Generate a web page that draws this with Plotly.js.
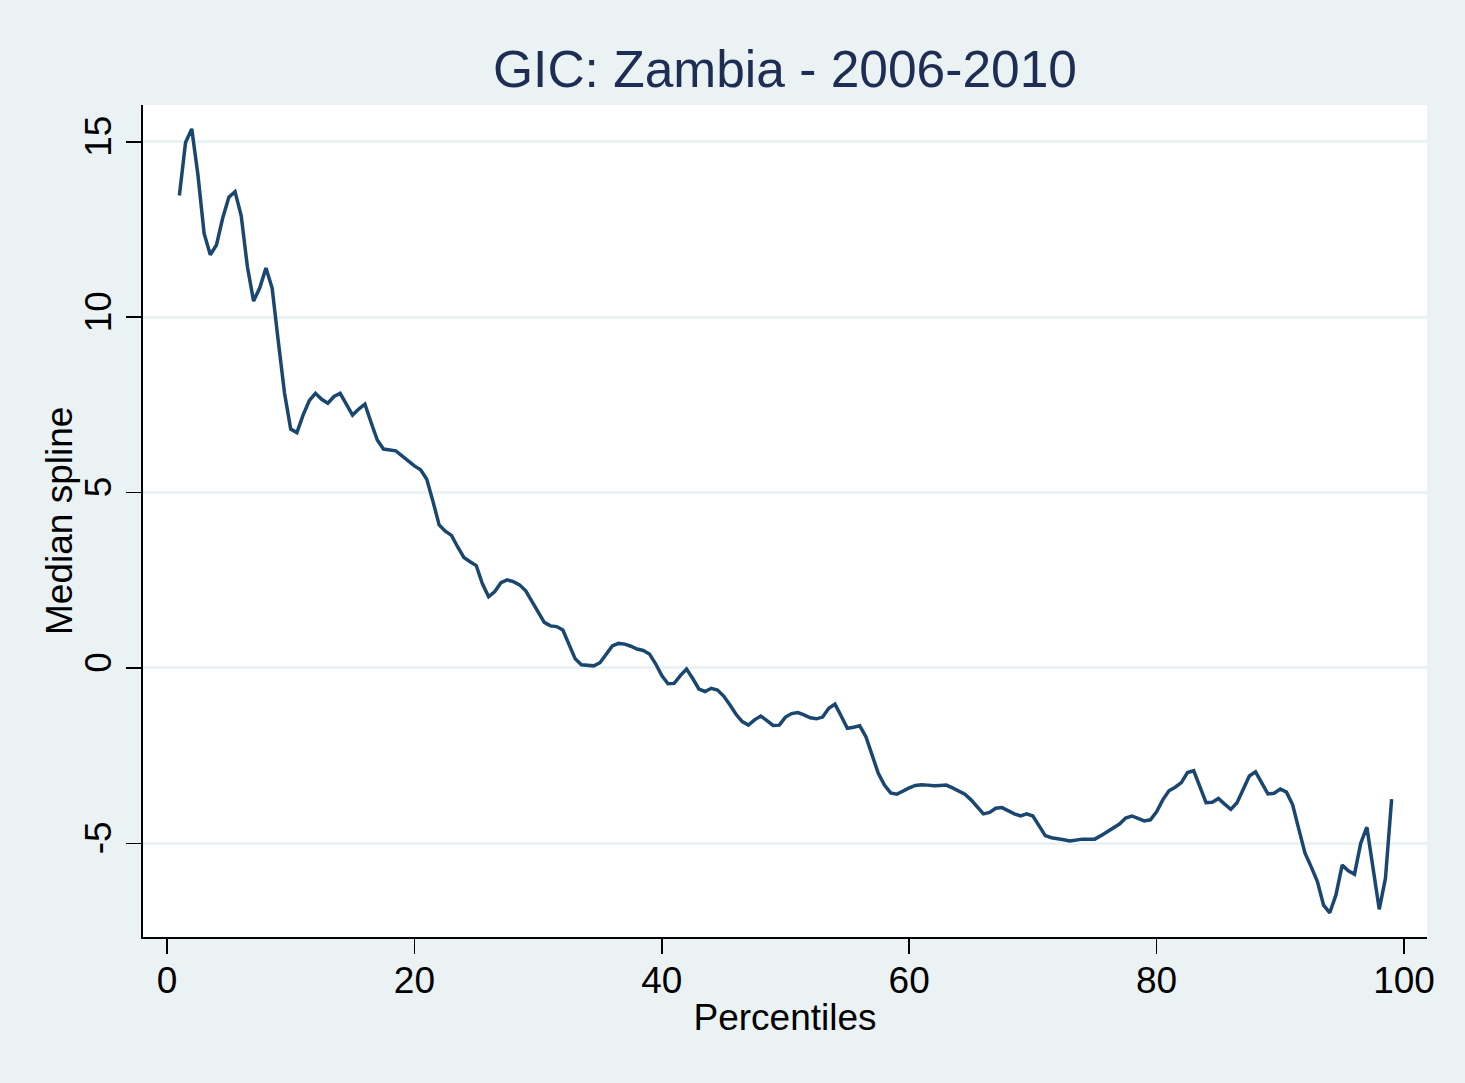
<!DOCTYPE html>
<html>
<head>
<meta charset="utf-8">
<script src="https://cdn.plot.ly/plotly-3.0.1.min.js"></script>
<style>html,body{margin:0;padding:0;background:#EAF2F3;}#chart{width:1465px;height:1083px;}</style>
</head>
<body>
<div id="chart"></div>
<script>
const percentiles = [1,1.5,2,2.5,3,3.5,4,4.5,5,5.5,6,6.5,7,7.5,8,8.5,9,9.5,10,10.5,
11,11.5,12,12.5,13,13.5,14,14.5,15,15.5,16,16.5,17,17.5,18,18.5,19,19.5,20,20.5,
21,21.5,22,22.5,23,23.5,24,24.5,25,25.5,26,26.5,27,27.5,28,28.5,29,29.5,30,30.5,
31,31.5,32,32.5,33,33.5,34,34.5,35,35.5,36,36.5,37,37.5,38,38.5,39,39.5,40,40.5,
41,41.5,42,42.5,43,43.5,44,44.5,45,45.5,46,46.5,47,47.5,48,48.5,49,49.5,50,50.5,
51,51.5,52,52.5,53,53.5,54,54.5,55,55.5,56,56.5,57,57.5,58,58.5,59,59.5,60,60.5,
61,61.5,62,62.5,63,63.5,64,64.5,65,65.5,66,66.5,67,67.5,68,68.5,69,69.5,70,70.5,
71,71.5,72,72.5,73,73.5,74,74.5,75,75.5,76,76.5,77,77.5,78,78.5,79,79.5,80,80.5,
81,81.5,82,82.5,83,83.5,84,84.5,85,85.5,86,86.5,87,87.5,88,88.5,89,89.5,90,90.5,
91,91.5,92,92.5,93,93.5,94,94.5,95,95.5,96,96.5,97,97.5,98,98.5,99];

const medianSpline = [13.47,14.98,15.37,14.06,12.39,11.78,12.06,12.82,13.42,13.58,
12.89,11.44,10.46,10.84,11.40,10.83,9.30,7.84,6.81,6.71,
7.21,7.62,7.83,7.66,7.55,7.74,7.83,7.50,7.21,7.38,
7.52,7.00,6.50,6.24,6.22,6.19,6.05,5.90,5.76,5.65,
5.38,4.75,4.08,3.90,3.78,3.45,3.15,3.03,2.92,2.40,
2.03,2.18,2.43,2.51,2.46,2.37,2.20,1.90,1.58,1.30,
1.20,1.18,1.08,0.65,0.26,0.09,0.07,0.06,0.15,0.40,
0.63,0.70,0.68,0.62,0.54,0.50,0.40,0.12,-0.22,-0.45,
-0.44,-0.22,-0.03,-0.30,-0.60,-0.67,-0.58,-0.63,-0.80,-1.05,
-1.32,-1.53,-1.63,-1.48,-1.37,-1.50,-1.64,-1.63,-1.40,-1.30,
-1.27,-1.34,-1.42,-1.45,-1.40,-1.15,-1.03,-1.37,-1.72,-1.69,
-1.65,-1.96,-2.48,-3.00,-3.34,-3.56,-3.60,-3.50,-3.42,-3.35,
-3.33,-3.34,-3.36,-3.35,-3.34,-3.42,-3.50,-3.60,-3.76,-3.97,
-4.16,-4.12,-4.00,-3.98,-4.07,-4.16,-4.22,-4.16,-4.22,-4.50,
-4.78,-4.84,-4.86,-4.90,-4.93,-4.90,-4.88,-4.88,-4.88,-4.78,
-4.67,-4.57,-4.45,-4.28,-4.22,-4.29,-4.36,-4.33,-4.10,-3.76,
-3.50,-3.40,-3.27,-2.98,-2.93,-3.38,-3.84,-3.83,-3.72,-3.88,
-4.03,-3.84,-3.46,-3.08,-2.96,-3.29,-3.59,-3.57,-3.45,-3.54,
-3.90,-4.60,-5.28,-5.67,-6.09,-6.76,-6.98,-6.47,-5.62,-5.78,
-5.88,-5.00,-4.54,-5.71,-6.88,-6.00,-3.74];

const xTicks = [0,20,40,60,80,100];
const yTicks = [-5,0,5,10,15];

const FONT = 'Liberation Sans, Arial, Helvetica, sans-serif';

const trace = {
  x: percentiles,
  y: medianSpline,
  type: 'scatter',
  mode: 'lines',
  line: {color: '#1A476F', width: 3.5},
  hoverinfo: 'x+y'
};

const layout = {
  width: 1465,
  height: 1083,
  paper_bgcolor: '#EAF2F3',
  plot_bgcolor: '#FFFFFF',
  margin: {l: 143, r: 38, t: 105, b: 146, pad: 0},
  showlegend: false,
  title: {
    text: 'GIC: Zambia - 2006-2010',
    font: {family: FONT, size: 51.5, color: '#1E2D53'},
    x: 0.5, xref: 'paper', xanchor: 'center',
    y: 1 - 69/1083, yref: 'container', yanchor: 'middle'
  },
  xaxis: {
    range: [-1.94, 101.86],
    tickvals: xTicks,
    ticktext: xTicks.map(String),
    ticks: 'outside', ticklen: 15, tickwidth: 1.5, tickcolor: '#000000',
    ticklabelstandoff: -5,
    showline: true, linecolor: '#000000', linewidth: 2,
    showgrid: false, zeroline: false,
    tickfont: {family: FONT, size: 37, color: '#000000'},
    title: {text: 'Percentiles', font: {family: FONT, size: 37, color: '#000000'}, standoff: 4}
  },
  yaxis: {
    range: [-7.67, 16.05],
    tickvals: yTicks,
    ticktext: yTicks.map(String),
    tickangle: -90,
    ticks: 'outside', ticklen: 15, tickwidth: 1.5, tickcolor: '#000000',
    showline: true, linecolor: '#000000', linewidth: 2,
    showgrid: true, gridcolor: '#EAF2F3', gridwidth: 3,
    zeroline: false,
    tickfont: {family: FONT, size: 37, color: '#000000'},
    title: {text: ''}
  },
  annotations: [{
    text: 'Median spline',
    xref: 'paper', yref: 'paper',
    x: 0, y: 0.5,
    xanchor: 'center', yanchor: 'middle',
    xshift: -84, textangle: -90,
    showarrow: false,
    font: {family: FONT, size: 37, color: '#000000'}
  }]
};

Plotly.newPlot('chart', [trace], layout, {displayModeBar: false, staticPlot: true});
</script>
</body>
</html>
